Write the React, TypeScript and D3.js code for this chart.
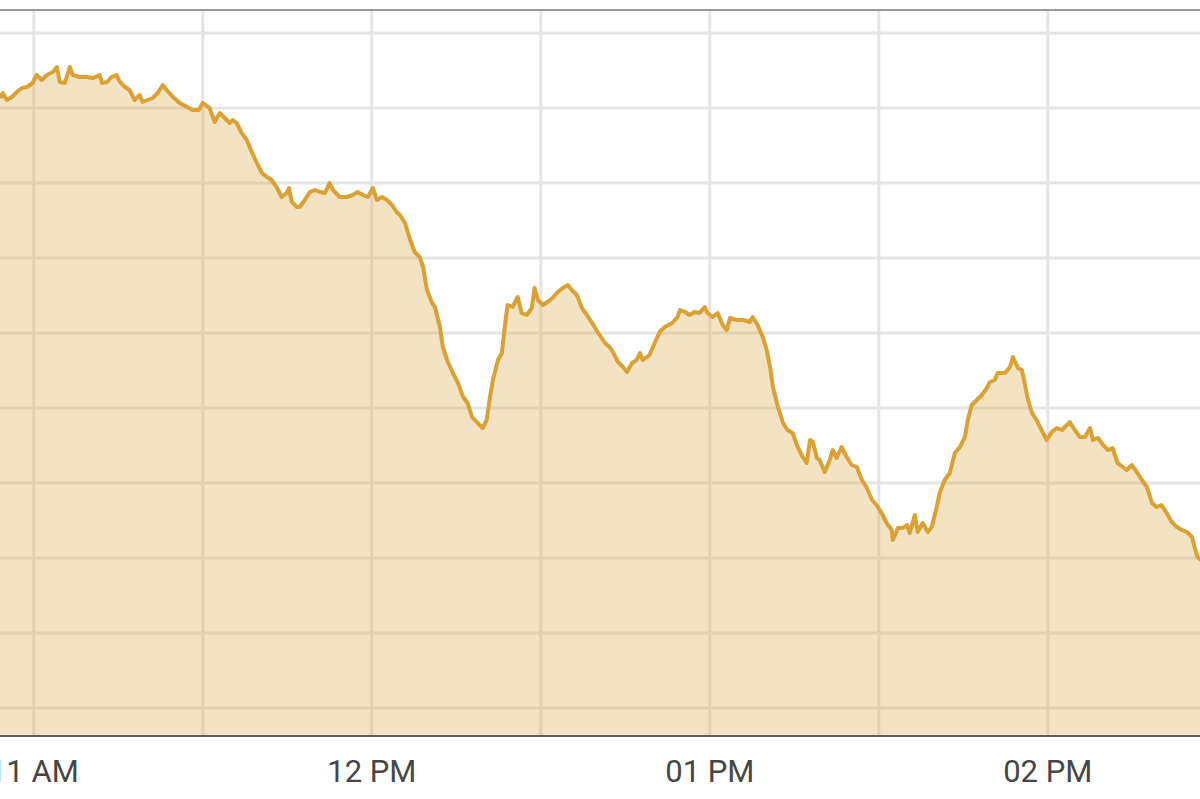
// Intraday index area chart — gold price line over a pale fill, half-hour grid.
import * as d3 from "d3";

// Trading day and session clock: offsets below are minutes after 11:00
const SESSION_DAY = [2019, 0, 2];
const SESSION_HOUR = 11;

const minuteOffsets = [
  -6.0, -5.5, -4.8, -3.9, -3.0, -2.1, -1.2, -0.2, 0.5, 1.4, 2.3, 3.4, 4.1, 4.6, 5.5, 6.4, 6.9, 8.2, 9.4, 10.5,
  11.7, 12.1, 13.0, 13.8, 14.7, 15.3, 16.2, 17.0, 17.9, 18.8, 19.3, 20.2, 21.1, 22.0, 22.9, 23.6, 24.7, 25.9, 27.2, 28.2,
  29.3, 30.0, 31.2, 32.1, 33.0, 33.9, 34.8, 35.3, 36.0, 36.9, 37.8, 38.7, 39.6, 40.5, 41.4, 42.2, 43.1, 44.0, 44.9, 45.3,
  45.8, 46.7, 47.2, 48.1, 49.0, 49.9, 50.8, 51.7, 52.5, 53.1, 54.3, 55.6, 56.6, 57.5, 58.4, 59.3, 60.2, 60.9, 61.8, 62.7,
  63.6, 64.4, 65.0, 65.9, 66.7, 67.6, 68.5, 69.1, 69.8, 70.7, 71.2, 72.1, 72.6, 73.5, 74.4, 75.3, 76.2, 77.0, 77.8, 78.8,
  79.7, 80.4, 80.9, 81.5, 82.4, 83.1, 83.6, 84.1, 85.0, 85.9, 86.6, 87.5, 88.4, 88.9, 89.5, 90.4, 91.2, 92.1, 93.0, 93.9,
  94.8, 95.5, 96.4, 97.3, 98.2, 99.1, 100.1, 101.4, 102.2, 102.8, 103.7, 104.6, 105.3, 106.2, 107.0, 107.6, 108.1, 109.3, 110.2, 111.1,
  112.0, 113.3, 114.3, 114.7, 115.6, 116.4, 117.3, 118.2, 119.1, 119.6, 120.5, 121.4, 122.3, 123.0, 123.6, 124.8, 125.9, 127.1, 127.6, 128.5,
  129.4, 130.1, 130.7, 131.2, 132.1, 133.0, 133.8, 134.7, 135.6, 136.5, 137.2, 137.8, 138.3, 139.0, 139.5, 140.4, 141.3, 141.8, 142.5, 143.4,
  144.3, 145.2, 146.1, 147.0, 147.9, 148.8, 149.6, 150.5, 151.4, 152.3, 152.5, 153.4, 154.3, 155.0, 155.5, 156.4, 156.9, 157.8, 158.7, 159.4,
  160.3, 160.8, 161.7, 162.6, 163.5, 164.4, 165.3, 165.8, 166.5, 167.4, 168.3, 169.2, 169.7, 170.6, 171.1, 172.4, 173.3, 173.8, 174.7, 175.4,
  175.9, 176.4, 177.2, 178.0, 178.9, 179.8, 180.7, 181.6, 182.5, 183.4, 183.9, 184.8, 185.7, 186.6, 187.5, 188.0, 188.9, 189.8, 190.7, 191.5,
  192.4, 193.3, 194.0, 194.9, 195.8, 196.7, 197.6, 198.5, 199.3, 200.2, 201.1, 202.0, 202.9, 203.8, 204.7, 205.6, 206.1, 206.6, 207.2,
];

const prices = [
  3122, 3123, 3121.6, 3122.2, 3123.2, 3124, 3124.2, 3125, 3126.6, 3125.6, 3126.6, 3127.2, 3128.2, 3125.2, 3125, 3128.2, 3126.6, 3126.2, 3126.2, 3126,
  3126.6, 3125, 3125.2, 3126.2, 3126.6, 3125.2, 3124.2, 3123.6, 3121.6, 3122.6, 3121.2, 3121.6, 3122, 3123, 3124.6, 3123.6, 3122.2, 3121, 3120.2, 3119.6,
  3119.6, 3121, 3120, 3117.2, 3119, 3118, 3117, 3117.6, 3117, 3115, 3113.6, 3111.2, 3109, 3107, 3106.2, 3105.6, 3104.2, 3102.2, 3103, 3104,
  3101.2, 3100.2, 3100.2, 3101.6, 3103.2, 3103.6, 3103.2, 3103, 3105, 3103.6, 3102.2, 3102.2, 3102.6, 3103.2, 3102.6, 3102.2, 3104, 3101.6, 3102.2, 3101.6,
  3100.6, 3099.2, 3098.6, 3097, 3094, 3091.2, 3090.2, 3088.2, 3083.6, 3081, 3080.2, 3076.2, 3072.2, 3069.2, 3067, 3065, 3062.2, 3061, 3058.2, 3057,
  3056, 3057.6, 3061.6, 3065.6, 3069.6, 3071, 3076.2, 3080.6, 3080.2, 3082.2, 3079, 3078.6, 3080, 3084, 3081.6, 3080.6, 3081.2, 3082, 3083.2, 3084,
  3084.6, 3083.6, 3082.6, 3080, 3078.6, 3077, 3075.2, 3073, 3072.2, 3071.2, 3069.2, 3068.2, 3067.2, 3069, 3069.6, 3071, 3069.6, 3070.6, 3073, 3075.2,
  3076.2, 3077, 3078.2, 3079.6, 3079.2, 3078.6, 3079.2, 3079, 3080.2, 3079, 3078.2, 3079, 3076.6, 3075.6, 3078, 3077.6, 3077.6, 3077.2, 3078.2, 3076.6,
  3074.2, 3071.6, 3068.2, 3064.2, 3060.2, 3057, 3055.6, 3055, 3052.2, 3050.2, 3049, 3053.6, 3053.2, 3050, 3049.6, 3047.2, 3049.6, 3051.6, 3050, 3052.2,
  3050.2, 3048.6, 3048.2, 3045.6, 3044, 3041.6, 3040.6, 3039, 3037, 3035.6, 3033.6, 3036, 3036, 3036.6, 3035, 3038.6, 3035.2, 3037, 3035.2, 3036.2,
  3040.2, 3043, 3045.6, 3047, 3051, 3052.2, 3054.2, 3057.6, 3060.6, 3061.6, 3062.6, 3064, 3065.2, 3065.6, 3067, 3067, 3068.2, 3070.2, 3068, 3067.6,
  3065, 3062, 3059, 3057.6, 3055.6, 3053.6, 3055.2, 3056, 3055.6, 3056.6, 3057.2, 3055.6, 3054.2, 3054.2, 3056, 3053.6, 3054, 3052.6, 3051.6, 3052,
  3049, 3048.2, 3047.6, 3048.6, 3047.2, 3045.6, 3044.2, 3041, 3040.2, 3040.6, 3039, 3037.2, 3036.2, 3035.6, 3035.2, 3034.2, 3032, 3030.2, 3029.6,
];

// Horizontal gridline values (their labels sit off-frame) and the visible value window
const gridValues = [3000, 3015, 3030, 3045, 3060, 3075, 3090, 3105, 3120, 3135];
const valueWindow = [2994.4, 3139.6];

const toDate = (m: number) =>
  new Date(SESSION_DAY[0], SESSION_DAY[1], SESSION_DAY[2], SESSION_HOUR, 0, Math.round(m * 60));

const LINE_COLOR = "#dba134";
const FILL_COLOR = "rgba(219, 161, 52, 0.3)";
const GRID_COLOR = "#e5e5e5";

export default function App() {
  const width = 1200;
  const height = 799;
  const plotTop = 10;
  const plotBottom = 736;

  const points = minuteOffsets.map((m, i) => ({ t: toDate(m), v: prices[i] }));

  const x = d3
    .scaleTime()
    .domain(d3.extent(points, (d) => d.t) as [Date, Date])
    .range([0, 1201]);
  const y = d3.scaleLinear().domain(valueWindow).range([plotBottom, plotTop]);

  const area = d3
    .area<(typeof points)[0]>()
    .x((d) => x(d.t))
    .y0(plotBottom)
    .y1((d) => y(d.v));
  const line = d3
    .line<(typeof points)[0]>()
    .x((d) => x(d.t))
    .y((d) => y(d.v));

  const halfHours = x.ticks(d3.timeMinute.every(30)!);
  const hours = x.ticks(d3.timeHour.every(1)!);
  const fmt = d3.timeFormat("%I %p");

  return (
    <svg
      width={width}
      height={height}
      style={{ position: "absolute", left: 0, top: 0, display: "block" }}
    >
      <rect width={width} height={height} fill="#fff" />

      {/* Grid */}
      {gridValues.map((v) => (
        <line key={v} x1={0} x2={width} y1={y(v)} y2={y(v)} stroke={GRID_COLOR} strokeWidth={3} />
      ))}
      {halfHours.map((t) => (
        <line
          key={t.getTime()}
          x1={x(t)}
          x2={x(t)}
          y1={plotTop}
          y2={plotBottom}
          stroke={GRID_COLOR}
          strokeWidth={3}
        />
      ))}

      {/* Area + line */}
      <path d={area(points) ?? ""} fill={FILL_COLOR} />
      <path
        d={line(points) ?? ""}
        fill="none"
        stroke={LINE_COLOR}
        strokeWidth={4}
        strokeLinejoin="round"
      />

      {/* Frame */}
      <line x1={0} x2={width} y1={plotTop} y2={plotTop} stroke="#9a9a9a" strokeWidth={2} />
      <line x1={0} x2={width} y1={plotBottom} y2={plotBottom} stroke="#5f5f5f" strokeWidth={2} />

      {/* X axis labels */}
      {hours.map((t) => (
        <text
          key={t.getTime()}
          x={x(t)}
          y={782}
          textAnchor="middle"
          fontFamily="Roboto, 'Noto Sans', sans-serif"
          fontSize={31}
          fill="#464646"
        >
          {fmt(t)}
        </text>
      ))}
    </svg>
  );
}
